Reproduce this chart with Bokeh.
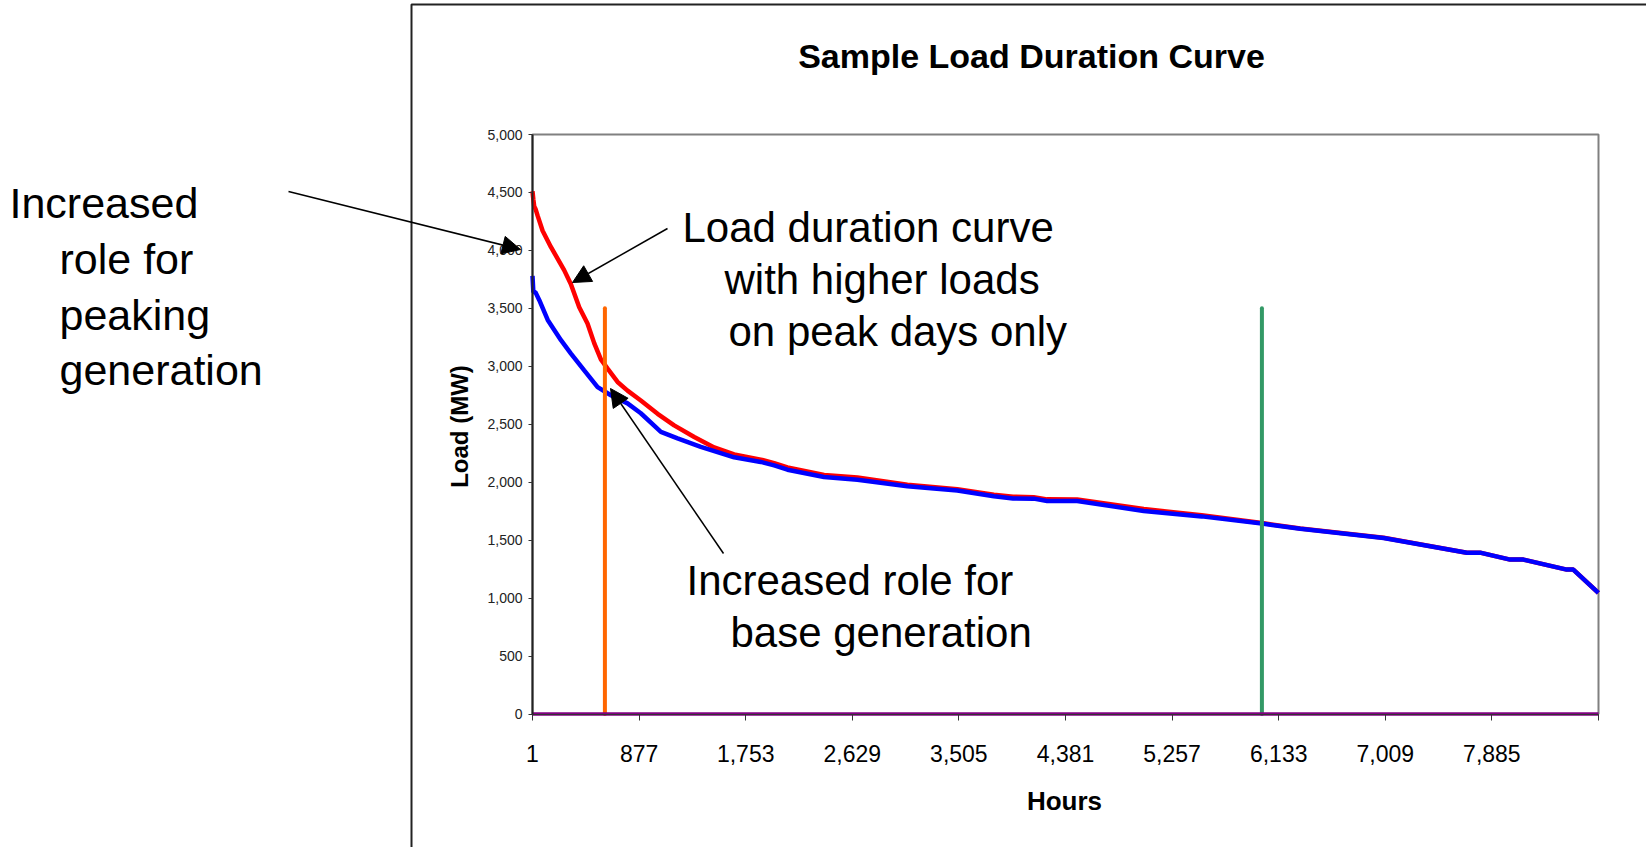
import math
from bokeh.plotting import figure
from bokeh.models import (Range1d, FixedTicker, NumeralTickFormatter, Label,
                          Arrow, NormalHead, BoxAnnotation)
from bokeh.embed import file_html
from bokeh.resources import INLINE

# ---- data ----
hours_high = [1, 8, 15, 25, 43, 84, 152, 261, 316, 385, 453, 508, 563, 618, 700, 782,
              891, 1029, 1165, 1330, 1494, 1658, 1877, 1987, 2096, 2397, 2671, 3082,
              3492, 3793, 3950, 4120, 4230, 4477, 5024, 5500, 5995, 6310, 6995, 7679,
              7788, 8035, 8144, 8500, 8554, 8760]
load_high = [4510, 4440, 4380, 4360, 4300, 4170, 4030, 3830, 3710, 3510, 3370, 3200,
             3060, 2980, 2865, 2790, 2705, 2590, 2490, 2390, 2300, 2240, 2195, 2165,
             2128, 2062, 2040, 1978, 1940, 1892, 1875, 1870, 1852, 1850, 1768, 1715,
             1648, 1600, 1520, 1392, 1392, 1332, 1332, 1246, 1246, 1045]

hours_base = [1, 8, 25, 57, 126, 235, 317, 426, 536, 645, 782, 891, 1056, 1193, 1384,
              1658, 1877, 1987, 2096, 2397, 2671, 3082, 3492, 3793, 3950, 4120, 4230,
              4477, 5024, 5500, 5995, 6310, 6995, 7679, 7788, 8035, 8144, 8500, 8554,
              8760]
load_base = [3780, 3640, 3640, 3570, 3400, 3225, 3110, 2965, 2820, 2750, 2680, 2595,
             2435, 2378, 2305, 2215, 2175, 2145, 2108, 2045, 2022, 1965, 1928, 1878,
             1860, 1858, 1838, 1838, 1752, 1705, 1643, 1598, 1518, 1392, 1392, 1332,
             1332, 1246, 1246, 1045]

peak_marker_hours = [596, 596]
peak_marker_load = [0, 3500]
base_marker_hours = [5995, 5995]
base_marker_load = [0, 3500]
zero_hours = [1, 8761]
zero_load = [0, 0]

x_ticks = [1, 877, 1753, 2629, 3505, 4381, 5257, 6133, 7009, 7885, 8761]
x_tick_labels = ["1", "877", "1,753", "2,629", "3,505", "4,381", "5,257", "6,133",
                 "7,009", "7,885", ""]
y_ticks = [0, 500, 1000, 1500, 2000, 2500, 3000, 3500, 4000, 4500, 5000]

FONT = "Liberation Sans"
W, H = 1646, 847

# pixel placement of the plot area inside the canvas
PA_LEFT, PA_RIGHT, PA_TOP, PA_BOTTOM = 532, 1598, 134, 713.5
x0, x1 = x_ticks[0], x_ticks[-1]
y0, y1 = y_ticks[0], y_ticks[-1]
hpp = (x1 - x0) / (PA_RIGHT - PA_LEFT)
vpp = (y1 - y0) / (PA_BOTTOM - PA_TOP)
xr = Range1d(x0 - PA_LEFT * hpp, x1 + (W - PA_RIGHT) * hpp)
yr = Range1d(y0 - (H - PA_BOTTOM) * vpp, y1 + PA_TOP * vpp)

p = figure(width=W, height=H, x_range=xr, y_range=yr, title=None,
           output_backend="svg", toolbar_location=None,
           min_border=0)
p.grid.visible = False
p.outline_line_color = None
p.background_fill_color = "white"
p.border_fill_color = "white"

# y axis
p.yaxis.fixed_location = x0
p.yaxis.bounds = (y0, y1)
p.yaxis.ticker = FixedTicker(ticks=y_ticks)
p.yaxis.formatter = NumeralTickFormatter(format="0,0")
p.yaxis.major_label_text_font = FONT
p.yaxis.major_label_text_font_size = "14px"
p.yaxis.major_label_text_color = "#222222"
p.yaxis.major_tick_out = 4
p.yaxis.major_tick_in = 0
p.yaxis.minor_tick_out = 0
p.yaxis.minor_tick_in = 0
p.yaxis.major_label_standoff = 6
p.yaxis.axis_line_color = "#222222"
p.yaxis.axis_line_width = 2
p.yaxis.major_tick_line_color = "#333333"

# x axis
p.xaxis.fixed_location = y0
p.xaxis.bounds = (x0, x1)
p.xaxis.ticker = FixedTicker(ticks=x_ticks)
p.xaxis.major_label_overrides = {t: lab for t, lab in zip(x_ticks, x_tick_labels)}
p.xaxis.major_label_text_font = FONT
p.xaxis.major_label_text_font_size = "23px"
p.xaxis.major_label_text_color = "black"
p.xaxis.major_tick_out = 6
p.xaxis.major_tick_in = 0
p.xaxis.minor_tick_out = 0
p.xaxis.minor_tick_in = 0
p.xaxis.major_label_standoff = 25
p.xaxis.axis_line_color = "#333333"
p.xaxis.axis_line_width = 1
p.xaxis.major_tick_line_color = "#333333"

# plot-area border
p.quad(left=[x0], right=[x1], bottom=[y0], top=[y1], fill_alpha=0,
       line_color="#808080", line_width=2)

# series
p.line(hours_high, load_high, line_color="#FF0000", line_width=4.5)
p.line(hours_base, load_base, line_color="#0000FF", line_width=4.5)
p.line(peak_marker_hours, peak_marker_load, line_color="#FF6600", line_width=4, line_cap="round")
p.line(base_marker_hours, base_marker_load, line_color="#339966", line_width=4, line_cap="round")
p.line(zero_hours, zero_load, line_color="#800080", line_width=3.5)

# outer chart box
p.add_layout(BoxAnnotation(left=411, right=1700, top=4, bottom=900,
                           left_units="canvas", right_units="canvas",
                           top_units="canvas", bottom_units="canvas",
                           fill_alpha=0, line_color="#222222", line_alpha=1,
                           line_width=2))

def lab(text, x, y, size="42px", bold=False, align="left", baseline="alphabetic", angle=0):
    p.add_layout(Label(x=x, y=y, x_units="canvas", y_units="canvas", text=text,
                       text_font=FONT, text_font_size=size, angle=angle,
                       text_font_style="bold" if bold else "normal",
                       text_align=align, text_baseline=baseline, text_color="black"))

lab("Sample Load Duration Curve", 1031, 55, size="34px", bold=True, align="center",
    baseline="middle")
lab("Load (MW)", 459, 426, size="24px", bold=True, align="center", baseline="middle",
    angle=math.pi / 2)
lab("Hours", 1064, 800, size="26px", bold=True, align="center", baseline="middle")

lab("Increased", 9, 202, size="43px")
lab("role for", 59, 258, size="43px")
lab("peaking", 59, 314, size="43px")
lab("generation", 59, 369, size="43px")

lab("Load duration curve", 682, 227)
lab("with higher loads", 724, 279)
lab("on peak days only", 728, 331)

lab("Increased role for", 686, 580)
lab("base generation", 730, 632)

def arrow(xa, ya, xb, yb):
    p.add_layout(Arrow(x_start=xa, y_start=ya, x_end=xb, y_end=yb,
                       start_units="canvas", end_units="canvas",
                       line_color="black", line_width=1.5,
                       end=NormalHead(size=18, fill_color="black", line_color="black")))

arrow(288, 191, 520, 249)
arrow(667, 228, 572, 282)
arrow(723, 553, 610, 388)

open("out.html", "w").write(file_html(p, INLINE))
